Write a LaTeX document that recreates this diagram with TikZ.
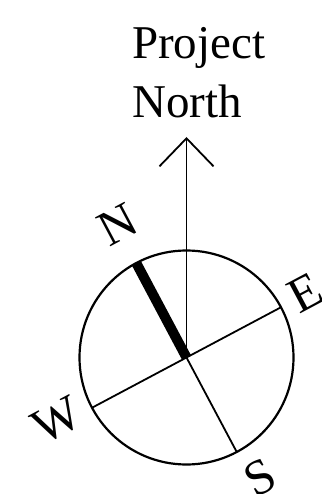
\documentclass[tikz,border=0pt]{standalone}
\usepackage{fontspec}
\setmainfont{Liberation Serif}
\usetikzlibrary{arrows.meta,calc}
\tikzset{
  dirlabel/.style={inner sep=0pt, rotate=28, font=\fontsize{50}{50}\selectfont},
  titletext/.style={anchor=base west, inner sep=0pt, font=\fontsize{47}{47}\selectfont},
  thinline/.style={line width=1.8pt, black},
}
\begin{document}
\begin{tikzpicture}[x=1pt, y=-1pt]
    \useasboundingbox (0,0) rectangle (321,494);
    % Dial
    \coordinate (o) at (186.5,357.5);
    \node[draw, line width=2.2pt, circle, minimum size=214pt, inner sep=0pt] (dial) at (o) {};
    % Compass lines (angles negated since y runs down)
    \coordinate (n) at ($(o)+(-118:107)$);
    \coordinate (s) at ($(o)+(62:107)$);
    \coordinate (e) at ($(o)+(-28:107)$);
    \coordinate (w) at ($(o)+(152:107)$);
    \draw[thinline] (w) -- (e);
    \draw[thinline] (o) -- (s);
    \draw[line width=10pt] (o) -- (n); % needle
    % Project north arrow
    \coordinate (tip) at (186.5,137);
    \draw[thinline, -{Straight Barb[length=28pt, width=54pt, line width=1.8pt]}] (o) -- (tip);
    % Labels
    \node[titletext] (title1) at (132,59) {Project};
    \node[titletext] (title2) at (132,118) {North};
    \node[dirlabel] (lblN) at (118,225) {N};
    \node[dirlabel] (lblE) at (305,293) {E};
    \node[dirlabel] (lblS) at (260,478) {S};
    \node[dirlabel] (lblW) at (57,420) {W};
\end{tikzpicture}
\end{document}
